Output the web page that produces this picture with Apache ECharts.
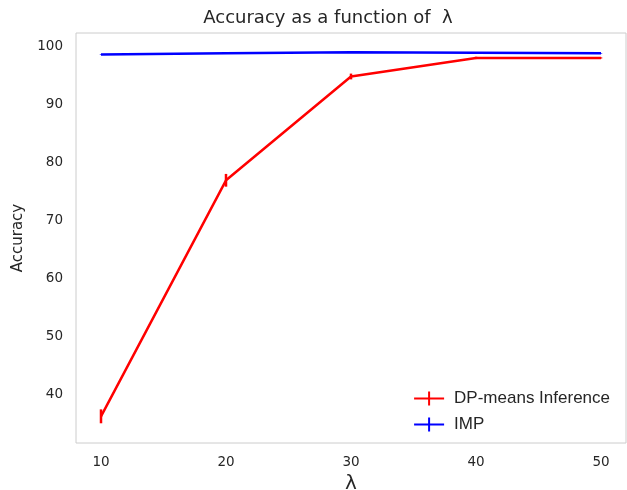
<!DOCTYPE html>
<html>
<head>
<meta charset="utf-8">
<script src="https://cdn.jsdelivr.net/npm/echarts@6/dist/echarts.min.js"></script>
<style>html,body{margin:0;padding:0;background:#fff}#c{width:627px;height:490px}</style>
</head>
<body>
<div id="c"></div>
<script>
const lambdas = [10, 20, 30, 40, 50];
const dpMeans = [36.2, 76.9, 94.8, 98.0, 98.0];
const dpErr = [1.2, 1.1, 0.5, 0.2, 0.1];
const imp = [98.6, 98.8, 99.0, 98.9, 98.8];
const impErr = [0.05, 0.05, 0.05, 0.05, 0.05];
const xTicks = [10, 20, 30, 40, 50];
const yTicks = [40, 50, 60, 70, 80, 90, 100];

const chart = echarts.init(document.getElementById('c'));
const txt = '#262626';
const font = 'DejaVu Sans';

function errData(vals, errs) {
  return lambdas.map((x, i) => [x, vals[i] - errs[i], vals[i] + errs[i]]);
}
function errSeries(name, color, vals, errs) {
  return {
    type: 'custom', name: name + ' err', silent: true, z: 3,
    data: errData(vals, errs),
    renderItem: function (params, api) {
      const p1 = api.coord([api.value(0), api.value(1)]);
      const p2 = api.coord([api.value(0), api.value(2)]);
      return { type: 'line', shape: { x1: p1[0], y1: p1[1], x2: p2[0], y2: p2[1] },
               style: { stroke: color, lineWidth: 2.5 } };
    }
  };
}
const plusIcon = 'path://M0,6H14V0H16V6H30V8H16V14H14V8H0Z';

chart.setOption({
  animation: false,
  backgroundColor: '#fff',
  title: {
    text: 'Accuracy as a function of  λ', left: 323, top: 4, textAlign: 'center',
    textStyle: { color: txt, fontFamily: font, fontSize: 18, fontWeight: 'normal' }
  },
  grid: { left: 76, right: 1, top: 33, bottom: 47, outerBoundsMode: 'none', containLabel: false,
          show: true, borderColor: '#cccccc', borderWidth: 1 },
  legend: {
    orient: 'vertical', right: 12, bottom: 52, itemWidth: 30, itemHeight: 14, itemGap: 9,
    icon: plusIcon,
    textStyle: { fontFamily: 'Liberation Sans', fontSize: 17, color: txt, padding: [0, 0, 0, 5] },
    data: [
      { name: 'DP-means Inference', icon: plusIcon, itemStyle: { color: 'red' } },
      { name: 'IMP', icon: plusIcon, itemStyle: { color: 'blue' } }
    ]
  },
  xAxis: {
    type: 'value', min: 8, max: 52,
    name: 'λ', nameLocation: 'middle', nameGap: 27,
    nameTextStyle: { color: txt, fontFamily: font, fontSize: 20 },
    axisLine: { show: false }, axisTick: { show: false }, splitLine: { show: false },
    axisLabel: { customValues: xTicks, color: txt, fontFamily: font, fontSize: 13.5, margin: 12 }
  },
  yAxis: {
    type: 'value', min: 31.6, max: 102.3,
    name: 'Accuracy', nameLocation: 'middle', nameGap: 50,
    nameTextStyle: { color: txt, fontFamily: font, fontSize: 15 },
    axisLine: { show: false }, axisTick: { show: false }, splitLine: { show: false },
    axisLabel: { customValues: yTicks, color: txt, fontFamily: font, fontSize: 13.5, margin: 13 }
  },
  series: [
    { type: 'line', name: 'DP-means Inference', data: lambdas.map((x, i) => [x, dpMeans[i]]),
      showSymbol: false, symbol: 'none', lineStyle: { color: 'red', width: 2.5 }, itemStyle: { color: 'red' }, z: 2 },
    { type: 'line', name: 'IMP', data: lambdas.map((x, i) => [x, imp[i]]),
      showSymbol: false, symbol: 'none', lineStyle: { color: 'blue', width: 2.5 }, itemStyle: { color: 'blue' }, z: 2 },
    errSeries('DP-means Inference', 'red', dpMeans, dpErr),
    errSeries('IMP', 'blue', imp, impErr)
  ]
});
</script>
</body>
</html>
